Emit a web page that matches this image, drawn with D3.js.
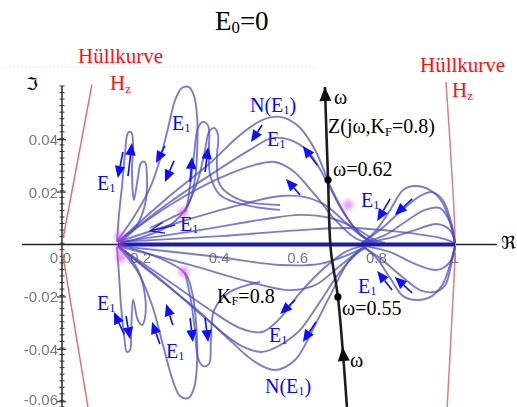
<!DOCTYPE html>
<html>
<head>
<meta charset="utf-8">
<script src="https://cdn.jsdelivr.net/npm/d3@7"></script>
<style>
  body { margin: 0; background: #fff; }
  svg { display: block; }
</style>
</head>
<body>
<svg id="chart" width="517" height="407"></svg>
<script>
// ---- Nyquist-plane traces [Re, Im] of N(E1) for E0 = 0 ----
// upper half-plane arches starting near Re≈0.14
const archUpperN  = [[0.142,0.0010],[0.262,0.0170],[0.377,0.0311],[0.453,0.0418],[0.509,0.0475],[0.555,0.0487],[0.601,0.0452],[0.644,0.0361],[0.687,0.0208],[0.733,0.0086],[0.771,0.0025],[0.796,0.0006]];
const archUpperB  = [[0.142,0.0010],[0.275,0.0162],[0.389,0.0277],[0.478,0.0361],[0.534,0.0406],[0.580,0.0399],[0.626,0.0355],[0.669,0.0254],[0.712,0.0132],[0.758,0.0040],[0.789,0.0006]];
const archUpperC  = [[0.142,0.0010],[0.275,0.0151],[0.402,0.0254],[0.491,0.0304],[0.542,0.0315],[0.585,0.0284],[0.644,0.0189],[0.695,0.0094],[0.746,0.0025],[0.784,0.0006]];
const archUpperD  = [[0.142,0.0010],[0.300,0.0086],[0.453,0.0151],[0.555,0.0185],[0.618,0.0181],[0.669,0.0151],[0.720,0.0086],[0.763,0.0032],[0.804,0.0006]];
const archUpperE  = [[0.148,0.0010],[0.351,0.0055],[0.504,0.0094],[0.606,0.0113],[0.682,0.0101],[0.746,0.0063],[0.796,0.0017],[0.822,0.0006]];
const flatUpper   = [[0.148,0.0010],[0.402,0.0032],[0.606,0.0055],[0.733,0.0063],[0.860,0.0048],[0.962,0.0025],[1.000,0.0006]];
// loops between Re≈0.77 and Re=1
const loopRightU1 = [[0.763,0.0006],[0.796,0.0048],[0.835,0.0132],[0.868,0.0208],[0.898,0.0223],[0.936,0.0208],[0.967,0.0162],[0.987,0.0086],[1.000,0.0006]];
const loopRightU2 = [[0.763,0.0006],[0.809,0.0055],[0.860,0.0124],[0.911,0.0185],[0.941,0.0200],[0.969,0.0170],[0.990,0.0086],[1.000,0.0006]];
const loopRightU3 = [[0.763,0.0006],[0.822,0.0036],[0.873,0.0086],[0.924,0.0132],[0.962,0.0139],[0.987,0.0086],[1.000,0.0006]];
const loopRightU4 = [[0.771,0.0006],[0.835,0.0025],[0.898,0.0055],[0.954,0.0078],[0.987,0.0055],[1.000,0.0006]];
const loopRightL1 = [[0.763,-0.0006],[0.796,-0.0044],[0.835,-0.0128],[0.868,-0.0197],[0.903,-0.0212],[0.941,-0.0197],[0.969,-0.0151],[0.987,-0.0078],[1.000,-0.0006]];
const loopRightL2 = [[0.763,-0.0006],[0.809,-0.0052],[0.860,-0.0116],[0.911,-0.0174],[0.949,-0.0181],[0.975,-0.0155],[0.990,-0.0078],[1.000,-0.0006]];
const loopRightL3 = [[0.771,-0.0006],[0.835,-0.0029],[0.898,-0.0074],[0.954,-0.0097],[0.987,-0.0067],[1.000,-0.0006]];
// narrow spikes and loops on the left
const spikeUpper  = [[0.140,0.0010],[0.145,0.0113],[0.153,0.0227],[0.160,0.0342],[0.168,0.0426],[0.176,0.0429],[0.181,0.0380],[0.178,0.0284],[0.183,0.0170],[0.193,0.0254],[0.201,0.0311],[0.211,0.0315],[0.216,0.0265],[0.211,0.0151],[0.186,0.0063],[0.148,0.0010]];
const loopUpperA  = [[0.142,0.0017],[0.186,0.0113],[0.224,0.0216],[0.249,0.0323],[0.270,0.0445],[0.288,0.0552],[0.305,0.0597],[0.323,0.0601],[0.336,0.0567],[0.344,0.0483],[0.344,0.0361],[0.338,0.0246],[0.321,0.0151],[0.275,0.0074],[0.198,0.0025],[0.148,0.0006]];
const loopUpperB  = [[0.224,0.0063],[0.288,0.0109],[0.313,0.0132],[0.326,0.0227],[0.336,0.0342],[0.346,0.0445],[0.359,0.0468],[0.372,0.0452],[0.374,0.0361],[0.377,0.0265],[0.402,0.0189],[0.466,0.0151],[0.555,0.0132]];
const loopUpperC  = [[0.313,0.0124],[0.346,0.0246],[0.364,0.0361],[0.374,0.0429],[0.387,0.0445],[0.397,0.0418],[0.394,0.0323],[0.402,0.0227],[0.453,0.0170],[0.555,0.0151]];
const spikeLower  = [[0.140,-0.0010],[0.145,-0.0116],[0.150,-0.0231],[0.158,-0.0345],[0.165,-0.0410],[0.173,-0.0403],[0.176,-0.0326],[0.181,-0.0212],[0.193,-0.0288],[0.204,-0.0307],[0.211,-0.0281],[0.211,-0.0193],[0.193,-0.0097],[0.160,-0.0029],[0.142,-0.0006]];
const loopLowerA  = [[0.142,-0.0006],[0.193,-0.0105],[0.229,-0.0231],[0.257,-0.0384],[0.280,-0.0510],[0.300,-0.0578],[0.321,-0.0586],[0.336,-0.0548],[0.344,-0.0441],[0.341,-0.0296],[0.331,-0.0181],[0.313,-0.0109],[0.249,-0.0052],[0.173,-0.0013]];
const loopLowerB  = [[0.313,-0.0109],[0.328,-0.0212],[0.338,-0.0326],[0.346,-0.0433],[0.359,-0.0464],[0.374,-0.0456],[0.379,-0.0365],[0.387,-0.0250],[0.427,-0.0181],[0.504,-0.0143]];
// lower half-plane arches
const archLowerN  = [[0.142,-0.0006],[0.249,-0.0135],[0.351,-0.0258],[0.427,-0.0365],[0.491,-0.0448],[0.542,-0.0479],[0.593,-0.0441],[0.644,-0.0307],[0.687,-0.0181],[0.728,-0.0067],[0.763,-0.0013]];
const archLowerB  = [[0.142,-0.0006],[0.262,-0.0147],[0.364,-0.0281],[0.453,-0.0384],[0.509,-0.0410],[0.555,-0.0384],[0.606,-0.0326],[0.651,-0.0231],[0.702,-0.0116],[0.746,-0.0040],[0.774,-0.0010]];
const archLowerC  = [[0.142,-0.0006],[0.275,-0.0143],[0.377,-0.0250],[0.453,-0.0319],[0.509,-0.0334],[0.555,-0.0281],[0.601,-0.0193],[0.656,-0.0105],[0.720,-0.0029],[0.763,-0.0006]];
const archLowerD  = [[0.142,-0.0006],[0.326,-0.0078],[0.478,-0.0143],[0.580,-0.0174],[0.644,-0.0155],[0.707,-0.0082],[0.758,-0.0021]];
const archLowerE  = [[0.148,-0.0006],[0.377,-0.0044],[0.555,-0.0078],[0.656,-0.0074],[0.720,-0.0044],[0.771,-0.0010]];
// dense band of traces lying on the real axis
const axisBand    = [[0.142,0],[1.000,0]];

// linear part Z(jω, K_F = 0.8)
const zTrace      = [[0.669,0.0601],[0.677,0.0246],[0.684,-0.0021],[0.702,-0.0200],[0.725,-0.0620]];
const omegaPoints = [[0.677,0.0246],[0.702,-0.0200]];
const omegaArrowLower = {tail:[0.719,-0.0480], tip:[0.714,-0.0391]};

// envelopes H_z
const envelopeLeftUpper = [[0.076,0.0609],[0.003,0.0025]];
const envelopeLeftLower = [[0.000,-0.0021],[0.066,-0.0620]];
const envelopeRight     = [[0.977,0.0620],[0.990,0.0323],[1.000,0.0006],[0.992,-0.0288],[0.980,-0.0620]];

// points where many traces pile up
const denseSpots = [[0.148,0.0030],[0.150,-0.0050],[0.148,-0.0010],[0.308,0.0124],[0.310,-0.0105],[0.728,0.0151]];

// direction of increasing E1 along the traces
const e1Arrows = [
  {tail:[0.262,0.0376], tip:[0.239,0.0311]},
  {tail:[0.155,0.0353], tip:[0.142,0.0254]},
  {tail:[0.168,0.0261], tip:[0.178,0.0387]},
  {tail:[0.285,0.0319], tip:[0.262,0.0239]},
  {tail:[0.326,0.0239], tip:[0.331,0.0334]},
  {tail:[0.364,0.0277], tip:[0.372,0.0372]},
  {tail:[0.509,0.0456], tip:[0.481,0.0391]},
  {tail:[0.649,0.0303], tip:[0.613,0.0376]},
  {tail:[0.606,0.0189], tip:[0.570,0.0250]},
  {tail:[0.835,0.0174], tip:[0.802,0.0090]},
  {tail:[0.891,0.0174], tip:[0.847,0.0113]},
  {tail:[0.158,-0.0342], tip:[0.132,-0.0258]},
  {tail:[0.163,-0.0273], tip:[0.173,-0.0361]},
  {tail:[0.249,-0.0380], tip:[0.229,-0.0296]},
  {tail:[0.282,-0.0307], tip:[0.265,-0.0227]},
  {tail:[0.326,-0.0281], tip:[0.333,-0.0372]},
  {tail:[0.364,-0.0281], tip:[0.372,-0.0372]},
  {tail:[0.593,-0.0212], tip:[0.555,-0.0265]},
  {tail:[0.646,-0.0296], tip:[0.613,-0.0372]},
  {tail:[0.840,-0.0174], tip:[0.802,-0.0101]},
  {tail:[0.891,-0.0185], tip:[0.847,-0.0124]}
];
const openArrow = {tail:[0.288,0.0074], tip:[0.224,0.0052]};

// axis ticks
const xTickValues = [0.2, 0.4, 0.6, 0.8, 1];
const xTickLabels = ["0.2", "0.4", "0.6", "0.8", "1"];
const yTickValues = [0.04, 0.02, -0.02, -0.04, -0.06];
const yTickLabels = ["0.04", "0.02", "-0.02", "-0.04", "-0.06"];

// ---- scales ----
const x = d3.scaleLinear().domain([0, 1]).range([62, 455]);
const y = d3.scaleLinear().domain([-0.06, 0.04]).range([401.7, 139.7]);

const svg = d3.select("#chart");
const defs = svg.append("defs");
defs.append("filter").attr("id", "soft").attr("x", "-10%").attr("y", "-10%").attr("width", "120%").attr("height", "120%")
  .append("feGaussianBlur").attr("stdDeviation", 0.55);
defs.append("filter").attr("id", "softer").attr("x", "-10%").attr("y", "-30%").attr("width", "120%").attr("height", "160%")
  .append("feGaussianBlur").attr("stdDeviation", 0.7);
defs.append("filter").attr("id", "haze").attr("x", "-100%").attr("y", "-100%").attr("width", "300%").attr("height", "300%")
  .append("feGaussianBlur").attr("stdDeviation", 2.2);

const serif = "'Liberation Serif', 'Times New Roman', serif";

// faint frame line at the top
svg.append("line")
  .attr("x1", 5).attr("x2", 315).attr("y1", 67).attr("y2", 67)
  .attr("stroke", "#c8c8c8").attr("stroke-width", 1).attr("stroke-dasharray", "1.5,2.5").attr("opacity", 0.6);

// ---- axes ----
const axisG = svg.append("g").attr("filter", "url(#soft)");
axisG.append("line")
  .attr("x1", 22).attr("x2", 497).attr("y1", y(0)).attr("y2", y(0))
  .attr("stroke", "#222").attr("stroke-width", 1.6);
axisG.append("line")
  .attr("x1", x(0)).attr("x2", x(0)).attr("y1", y(0.0605)).attr("y2", 407)
  .attr("stroke", "#333").attr("stroke-width", 1.6);

// y ticks: minor marks every 0.0025, longer marks at labelled values
const minorY = d3.range(-62, 61, 2.5).map(v => v / 1000);
axisG.selectAll("line.minor").data(minorY).join("line")
  .attr("class", "minor")
  .attr("x1", x(0) - 2.5).attr("x2", x(0) + 2.5)
  .attr("y1", d => y(d)).attr("y2", d => y(d))
  .attr("stroke", "#333").attr("stroke-width", 1);
axisG.selectAll("line.major").data(yTickValues).join("line")
  .attr("class", "major")
  .attr("x1", x(0) - 5).attr("x2", x(0) + 4)
  .attr("y1", d => y(d)).attr("y2", d => y(d))
  .attr("stroke", "#333").attr("stroke-width", 1.2);

const tickText = svg.append("g").attr("filter", "url(#softer)")
  .attr("font-family", "'Liberation Sans', Arial, sans-serif").attr("font-size", 15).attr("fill", "#7a7a7a");
tickText.selectAll("text.yl").data(yTickValues).join("text")
  .attr("class", "yl")
  .attr("x", x(0) - 4).attr("y", d => Math.min(y(d) + 5.5, 404.5))
  .attr("text-anchor", "end")
  .text((d, i) => yTickLabels[i]);
tickText.selectAll("text.xl").data(xTickValues).join("text")
  .attr("class", "xl")
  .attr("x", d => x(d)).attr("y", y(0) + 18)
  .attr("text-anchor", "middle")
  .text((d, i) => xTickLabels[i]);
tickText.append("text").attr("x", x(0) - 8).attr("y", y(0) + 18).attr("text-anchor", "middle").text("0");
tickText.append("text").attr("x", x(0) + 5).attr("y", y(0) + 18).attr("text-anchor", "middle").text("0");

// ---- envelopes ----
const straight = d3.line().x(d => x(d[0])).y(d => y(d[1]));
const smooth = d3.line().x(d => x(d[0])).y(d => y(d[1])).curve(d3.curveCatmullRom.alpha(0.5));
const envG = svg.append("g").attr("filter", "url(#soft)").attr("fill", "none");
[envelopeLeftUpper, envelopeLeftLower].forEach(seg =>
  envG.append("path").attr("d", straight(seg)).attr("stroke", "#e06a6a").attr("stroke-width", 1.4));
envG.append("path").attr("d", smooth(envelopeRight)).attr("stroke", "#d98080").attr("stroke-width", 1.5);

// ---- N(E1) traces ----
const traces = [
  archUpperN, archUpperB, archUpperC, archUpperD, archUpperE, flatUpper,
  loopRightU1, loopRightU2, loopRightU3, loopRightU4,
  loopRightL1, loopRightL2, loopRightL3,
  spikeUpper, loopUpperA, loopUpperB, loopUpperC,
  spikeLower, loopLowerA, loopLowerB,
  archLowerN, archLowerB, archLowerC, archLowerD, archLowerE
];
const traceG = svg.append("g").attr("filter", "url(#soft)").attr("fill", "none");
traceG.selectAll("path.trace").data(traces).join("path")
  .attr("class", "trace")
  .attr("d", d => smooth(d))
  .attr("stroke", "#4a4ac4").attr("stroke-width", 1.9).attr("stroke-opacity", 0.72)
  .attr("stroke-linejoin", "round");
traceG.append("path").attr("d", straight(axisBand))
  .attr("stroke", "#1c1ca8").attr("stroke-width", 4.2);

svg.append("g").selectAll("circle").data(denseSpots).join("circle")
  .attr("cx", d => x(d[0])).attr("cy", d => y(d[1])).attr("r", 5)
  .attr("fill", "#e040e8").attr("opacity", 0.55).attr("filter", "url(#haze)");

// ---- Z(jω) locus ----
const zG = svg.append("g").attr("filter", "url(#soft)");
zG.append("path").attr("d", smooth(zTrace))
  .attr("fill", "none").attr("stroke", "#1e1e1e").attr("stroke-width", 2.6);

function arrowHead(g, x1, y1, x2, y2, len, hw, color) {
  const a = Math.atan2(y2 - y1, x2 - x1);
  const bx = x2 - len * Math.cos(a), by = y2 - len * Math.sin(a);
  g.append("path")
    .attr("d", `M${x2},${y2}L${bx + hw * Math.sin(a)},${by - hw * Math.cos(a)}L${bx - hw * Math.sin(a)},${by + hw * Math.cos(a)}Z`)
    .attr("fill", color);
  return [bx, by];
}
// arrow at the top end of the locus
{
  const p0 = zTrace[1], p1 = zTrace[0];
  arrowHead(zG, x(p0[0]), y(p0[1]), x(p1[0]), y(p1[1]), 14, 6, "#111");
}
// arrow near the lower end
{
  const a = omegaArrowLower;
  arrowHead(zG, x(a.tail[0]), y(a.tail[1]), x(a.tip[0]), y(a.tip[1]), 14, 6, "#111");
}
zG.selectAll("circle").data(omegaPoints).join("circle")
  .attr("cx", d => x(d[0])).attr("cy", d => y(d[1])).attr("r", 3.6).attr("fill", "#000");

// ---- E1 direction arrows ----
const arrowG = svg.append("g").attr("filter", "url(#soft)");
e1Arrows.forEach(a => {
  const x1 = x(a.tail[0]), y1 = y(a.tail[1]), x2 = x(a.tip[0]), y2 = y(a.tip[1]);
  const [bx, by] = arrowHead(arrowG, x1, y1, x2, y2, 12, 5.2, "#0a0aff");
  arrowG.append("line").attr("x1", x1).attr("y1", y1).attr("x2", bx).attr("y2", by)
    .attr("stroke", "#0a0aff").attr("stroke-width", 1.6);
});
{
  const x1 = x(openArrow.tail[0]), y1 = y(openArrow.tail[1]), x2 = x(openArrow.tip[0]), y2 = y(openArrow.tip[1]);
  const a = Math.atan2(y2 - y1, x2 - x1), len = 14, hw = 5.5;
  const bx = x2 - len * Math.cos(a), by = y2 - len * Math.sin(a);
  arrowG.append("path")
    .attr("d", `M${x1},${y1}L${x2},${y2}M${bx + hw * Math.sin(a)},${by - hw * Math.cos(a)}L${x2},${y2}L${bx - hw * Math.sin(a)},${by + hw * Math.cos(a)}`)
    .attr("fill", "none").attr("stroke", "#0a0aff").attr("stroke-width", 1.2);
}

// ---- text ----
function subText(px, py, main, sub, size, color, rest) {
  const t = svg.append("text").attr("x", px).attr("y", py)
    .attr("font-family", serif).attr("font-size", size).attr("fill", color);
  t.append("tspan").text(main);
  t.append("tspan").attr("font-size", size * 0.62).attr("dy", size * 0.12).text(sub);
  if (rest) t.append("tspan").attr("dy", -size * 0.12).text(rest);
  return t;
}

subText(215, 30, "E", "0", 27, "#000", "=0");

svg.append("text").attr("x", 78).attr("y", 63).attr("font-family", serif).attr("font-size", 21).attr("fill", "#ff1010").text("Hüllkurve");
subText(110, 90, "H", "z", 21, "#ff1010");
svg.append("text").attr("x", 420).attr("y", 72).attr("font-family", serif).attr("font-size", 21).attr("fill", "#ff1010").text("Hüllkurve");
subText(452, 97, "H", "z", 21, "#ff1010");

svg.append("text").attr("x", 26).attr("y", 90).attr("font-family", "'DejaVu Serif', 'DejaVu Sans', serif").attr("font-size", 17).attr("fill", "#000").text("ℑ");
svg.append("text").attr("x", 501).attr("y", 249).attr("font-family", "'DejaVu Serif', 'DejaVu Sans', serif").attr("font-size", 18).attr("fill", "#000").text("ℜ");

// black annotations on the Z(jω) locus
svg.append("text").attr("x", 334).attr("y", 104).attr("font-family", serif).attr("font-size", 20).attr("fill", "#000").text("ω");
{
  const t = svg.append("text").attr("x", 328).attr("y", 133).attr("font-family", serif).attr("font-size", 20).attr("fill", "#000");
  t.append("tspan").text("Z(jω,K");
  t.append("tspan").attr("font-size", 12.5).attr("dy", 2.5).text("F");
  t.append("tspan").attr("dy", -2.5).text("=0.8)");
}
svg.append("text").attr("x", 333).attr("y", 176).attr("font-family", serif).attr("font-size", 20).attr("fill", "#000").text("ω=0.62");
svg.append("text").attr("x", 342).attr("y", 315).attr("font-family", serif).attr("font-size", 20).attr("fill", "#000").text("ω=0.55");
svg.append("text").attr("x", 350).attr("y", 367).attr("font-family", serif).attr("font-size", 20).attr("fill", "#000").text("ω");
subText(217, 303, "K", "F", 20, "#000", "=0.8");

// blue labels
const blue = "#0a0aff";
[[172, 130], [97, 190], [180, 231], [267, 146], [361, 207],
 [97, 310], [166, 358], [269, 342], [358, 293]].forEach(p => subText(p[0], p[1], "E", "1", 20, blue));
subText(250, 112, "N(E", "1", 20, blue, ")");
subText(265, 393, "N(E", "1", 20, blue, ")");
</script>
</body>
</html>
